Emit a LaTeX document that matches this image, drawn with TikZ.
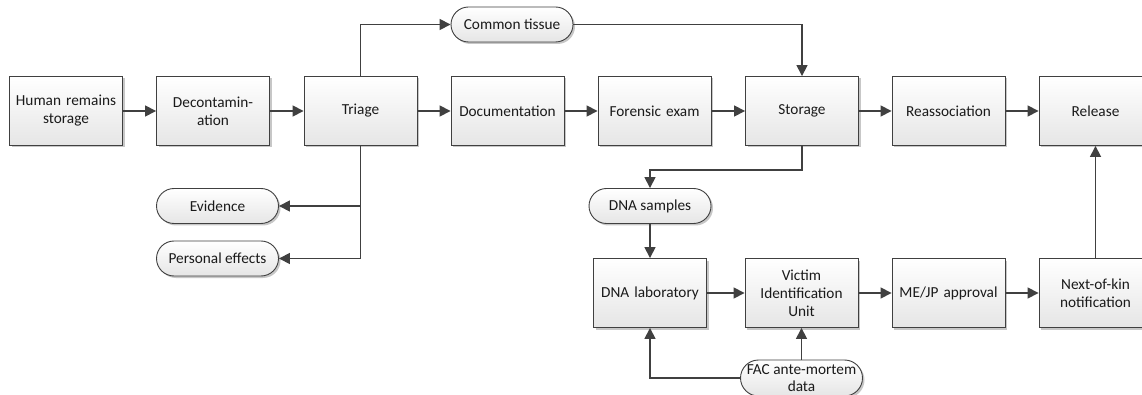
\documentclass[tikz,border=0pt]{standalone}
\usepackage{fontspec}
\setmainfont{Carlito}
\usetikzlibrary{arrows.meta,shapes.misc,shadows}
\definecolor{edge}{HTML}{404040}
\definecolor{txt}{HTML}{1A1A1A}
\begin{document}
\begin{tikzpicture}[x=1pt,y=-1pt,
  every node/.style={font=\fontsize{15.3}{18}\selectfont, text=txt},
  procbox/.style={draw=edge, line width=0.9pt, rectangle, minimum width=113pt, minimum height=69pt,
    text width=105pt, align=center, inner sep=0pt, shading=axis, top color=white, bottom color=black!10,
    drop shadow={shadow xshift=2pt, shadow yshift=-2pt, fill=black!22, opacity=1}},
  term/.style={draw=edge, line width=0.9pt, rounded rectangle, minimum width=122pt, minimum height=35pt,
    inner sep=0pt, align=center, shading=axis, top color=white, bottom color=black!10,
    drop shadow={shadow xshift=2pt, shadow yshift=-2pt, fill=black!22, opacity=1}},
  arr/.style={draw=edge, line width=1.6pt, -{Triangle[length=11pt,width=11pt]}},
  ln/.style={draw=edge, line width=1.6pt}
]
\clip (0,0) rectangle (1142,395);
\fill[white] (0,0) rectangle (1142,395);
% main row
\node[procbox] (hrs) at (66,111) {Human remains\\storage};
\node[procbox] (dec) at (213,111) {Decontamin-\\ation};
\node[procbox] (tri) at (360.5,111) {Triage};
\node[procbox] (doc) at (507.5,111) {Documentation};
\node[procbox] (for) at (654.5,111) {Forensic exam};
\node[procbox] (sto) at (802,111) {Storage};
\node[procbox] (rea) at (948.5,111) {Reassociation};
\node[procbox] (rel) at (1095.5,111) {Release};
% terminals
\node[term] (ct) at (512,24.5) {Common tissue};
\node[term] (ev) at (217.5,206) {Evidence};
\node[term] (pe) at (217.5,258.5) {Personal effects};
\node[term] (dnas) at (650,206) {DNA samples};
% bottom row
\node[procbox] (lab) at (650,293) {DNA laboratory};
\node[procbox] (viu) at (801.5,293) {Victim\\Identification\\Unit};
\node[procbox] (mej) at (948.5,293) {ME/JP approval};
\node[procbox] (nok) at (1095.5,293) {Next-of-kin\\notification};
\node[term, minimum height=36pt, font=\fontsize{15.3}{17}\selectfont] (fac) at (801.5,378) {FAC ante-mortem\\data};
% connectors
\draw[arr] (hrs) -- (dec);
\draw[arr] (dec) -- (tri);
\draw[arr] (tri) -- (doc);
\draw[arr] (doc) -- (for);
\draw[arr] (for) -- (sto);
\draw[arr] (sto) -- (rea);
\draw[arr] (rea) -- (rel);
\draw[arr] (tri.north) |- (ct.west);
\draw[arr] (ct.east) -| (sto.north);
\draw[arr] (tri.south) |- (ev.east);
\draw[arr] (tri.south) |- (pe.east);
\coordinate (j1) at (650,170);
\draw[arr] (sto.south) |- (j1) -- (dnas.north);
\draw[arr] (dnas.south) -- (lab.north);
\draw[arr] (lab) -- (viu);
\draw[arr] (viu) -- (mej);
\draw[arr] (mej) -- (nok);
\draw[arr] (nok.north) -- (rel.south);
\draw[arr] (fac.north) -- (viu.south);
\draw[arr] (fac.west) -| (lab.south);
\end{tikzpicture}
\end{document}
